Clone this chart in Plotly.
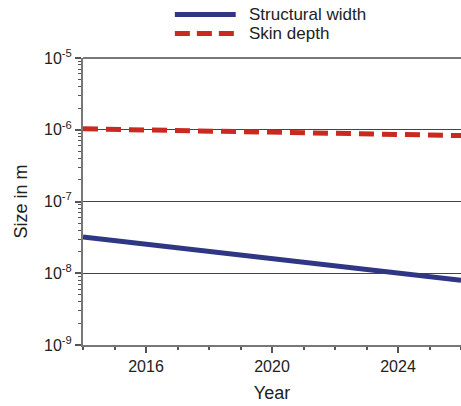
import plotly.graph_objects as go

# Projected feature sizes by year
years = [2014, 2016, 2018, 2020, 2022, 2024, 2026]
structural_width = [3.2e-8, 2.54e-8, 2.02e-8, 1.6e-8, 1.27e-8, 1.01e-8, 8.0e-9]
skin_depth = [1.03e-6, 1.0e-6, 0.97e-6, 0.93e-6, 0.90e-6, 0.87e-6, 0.83e-6]

year_ticks = [2016, 2020, 2024]
size_ticks = [1e-9, 1e-8, 1e-7, 1e-6, 1e-5]
size_labels = ["10<sup>-9</sup>", "10<sup>-8</sup>", "10<sup>-7</sup>",
               "10<sup>-6</sup>", "10<sup>-5</sup>"]
# Intermediate log ticks (2..9 within each decade)
size_minor = [m * d for d in size_ticks[:-1] for m in range(2, 10)]

navy = "#2f3784"
red = "#c9291f"
font_family = "Liberation Sans, Arial, sans-serif"

fig = go.Figure()
fig.add_trace(go.Scatter(x=years, y=structural_width, mode="lines",
                         name="Structural width",
                         line=dict(color=navy, width=5)))
fig.add_trace(go.Scatter(x=years, y=skin_depth, mode="lines",
                         name="Skin depth",
                         line=dict(color=red, width=5, dash="15px,8px")))

# Top border of the plot area
fig.add_shape(type="line", xref="paper", yref="paper", x0=0, x1=1, y0=1, y1=1,
              line=dict(color="#777", width=2), layer="below")

# Legend drawn above the plot area
legend_items = [("Structural width", navy, "solid", 1.152),
                ("Skin depth", red, "15px,7px", 1.085)]
for label, color, dash, ypos in legend_items:
    fig.add_shape(type="line", xref="paper", yref="paper",
                  x0=0.243, x1=0.404, y0=ypos, y1=ypos,
                  line=dict(color=color, width=5, dash=dash))
    fig.add_annotation(xref="paper", yref="paper", x=0.435, y=ypos,
                       text=label, showarrow=False, xanchor="left",
                       yanchor="middle",
                       font=dict(size=17, color="#222", family=font_family))

fig.update_layout(
    width=461, height=406,
    margin=dict(l=83, r=0, t=58, b=61),
    paper_bgcolor="white", plot_bgcolor="white",
    showlegend=False,
    font=dict(family=font_family, color="#222", size=16),
)
fig.update_xaxes(
    range=[2014, 2026],
    tickvals=year_ticks,
    ticks="outside", ticklen=6, tickwidth=1.5, tickcolor="#555",
    showline=True, linecolor="#777", linewidth=2,
    showgrid=False, zeroline=False,
    minor=dict(dtick=1, ticks="outside", ticklen=3, tickcolor="#555",
               tickwidth=1.5, showgrid=False),
    title=dict(text="Year", font=dict(size=18), standoff=12),
    tickfont=dict(size=16),
)
fig.update_yaxes(
    type="log", range=[-9, -5],
    tickvals=size_ticks, ticktext=size_labels,
    ticks="outside", ticklen=6, tickwidth=1.5, tickcolor="#555",
    showline=True, linecolor="#777", linewidth=2,
    showgrid=True, gridcolor="#444", gridwidth=1,
    zeroline=False,
    minor=dict(tickmode="array", tickvals=size_minor, ticks="outside",
               ticklen=3, tickcolor="#555", tickwidth=1, showgrid=False),
    title=dict(text="Size in m", font=dict(size=18), standoff=12),
    tickfont=dict(size=16),
)

fig.write_html("out.html")
